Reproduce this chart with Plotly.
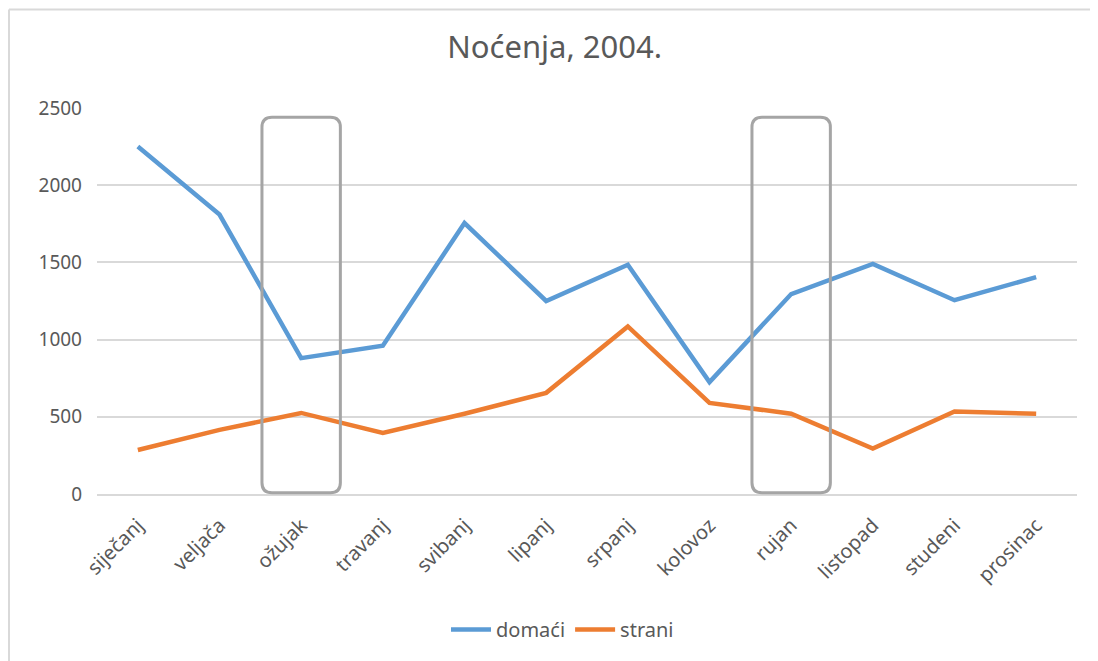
import plotly.graph_objects as go

months = ["siječanj", "veljača", "ožujak", "travanj", "svibanj", "lipanj",
          "srpanj", "kolovoz", "rujan", "listopad", "studeni", "prosinac"]
domaci = [2250, 1810, 880, 960, 1755, 1250, 1485, 725, 1295, 1490, 1255, 1405]
strani = [285, 415, 525, 395, 520, 655, 1085, 590, 520, 295, 535, 520]
y_ticks = [0, 500, 1000, 1500, 2000, 2500]
highlight = ["ožujak", "rujan"]

FONT = "Noto Sans"
TXT = "#595959"

fig = go.Figure()
fig.add_trace(go.Scatter(x=months, y=domaci, name="domaći", mode="lines",
                         line=dict(color="#5B9BD5", width=4.5)))
fig.add_trace(go.Scatter(x=months, y=strani, name="strani", mode="lines",
                         line=dict(color="#ED7D31", width=4.5)))

# rounded highlight boxes (paper coords computed from category index)
n = len(months)
shapes = []
for m in highlight:
    i = months.index(m)
    x0 = (i + 0.5 - 0.48) / n
    x1 = (i + 0.5 + 0.48) / n
    y0 = 0.003
    y1 = 0.976
    rx = 10 / 980
    ry = 10 / 386.0
    path = (f"M {x0+rx},{y0} L {x1-rx},{y0} Q {x1},{y0} {x1},{y0+ry} "
            f"L {x1},{y1-ry} Q {x1},{y1} {x1-rx},{y1} "
            f"L {x0+rx},{y1} Q {x0},{y1} {x0},{y1-ry} "
            f"L {x0},{y0+ry} Q {x0},{y0} {x0+rx},{y0} Z")
    shapes.append(dict(type="path", xref="paper", yref="paper", path=path,
                       line=dict(color="#A5A5A5", width=3), layer="above"))

# chart border (top and left edges visible)
shapes.append(dict(type="line", xref="paper", yref="paper",
                   x0=-0.0898, x1=1.03, y0=1.2553, y1=1.2553,
                   line=dict(color="#D9D9D9", width=2)))
shapes.append(dict(type="line", xref="paper", yref="paper",
                   x0=-0.0898, x1=-0.0898, y0=-0.44, y1=1.2553,
                   line=dict(color="#D9D9D9", width=2)))

fig.update_layout(
    width=1090, height=653,
    margin=dict(l=89, r=21, t=100, b=167, autoexpand=False),
    paper_bgcolor="white", plot_bgcolor="white",
    title=dict(text="Noćenja, 2004.", x=0.467, xref="paper", y=0.940, yref="container",
               xanchor="center", yanchor="middle",
               font=dict(family=FONT, size=31, color=TXT)),
    font=dict(family=FONT, color=TXT),
    xaxis=dict(type="category", tickangle=-45, showgrid=False,
               showline=True, linecolor="#D9D9D9", linewidth=1.5,
               ticks="", ticklabelstandoff=10,
               tickfont=dict(family=FONT, size=20, color=TXT),
               range=[-0.5, n - 0.5]),
    yaxis=dict(range=[0, 2500], tickvals=y_ticks, showgrid=True,
               gridcolor="#D9D9D9", gridwidth=1.5, zeroline=False,
               showline=False, ticks="", ticklen=0, ticklabelstandoff=14,
               tickfont=dict(family=FONT, size=19, color=TXT)),
    legend=dict(orientation="h", x=0.475, xanchor="center", y=-0.351,
                yanchor="middle", font=dict(family=FONT, size=20, color=TXT),
                itemwidth=40),
    shapes=shapes,
    showlegend=True,
)

fig.write_html("out.html")
